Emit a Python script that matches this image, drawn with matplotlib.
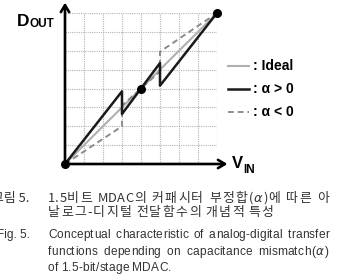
import re
import matplotlib
matplotlib.use("Agg")
import matplotlib.pyplot as plt
from matplotlib.lines import Line2D

W, H = 338, 278
DPI = 100

# ---- data ----
ideal_x = [0, 8]
ideal_y = [0, 8]
pos_x = [0, 3, 3, 5, 5, 8]
pos_y = [0, 3.85, 2.65, 5.35, 4.15, 8]
neg_x = [0, 3, 3, 5, 5, 8]
neg_y = [0, 2.0, 3.1, 4.9, 5.95, 8]
dot_x = [0, 4, 8]
dot_y = [0, 4, 8]
legend_labels = [": Ideal", ": \u03b1 > 0", ": \u03b1 < 0"]
caption_kr = [
    "1.5비트 MDAC의 커패시터 부정합($\\alpha$)에 따른 아",
    "날로그-디지털 전달함수의 개념적 특성",
]
caption_en = [
    "Conceptual characteristic of analog-digital transfer",
    "functions depending on capacitance mismatch($\\alpha$)",
    "of 1.5-bit/stage MDAC.",
]
caption_heads = ["그림 5.", "Fig. 5."]

fig = plt.figure(figsize=(W / DPI, H / DPI), dpi=DPI)
fig.patch.set_facecolor("white")

def fx(px):
    return px / W

def fy(py):
    return 1 - py / H

# axes: data 0..8 -> pixels x 65..217, y 164..13
ax = fig.add_axes([fx(65), fy(164), (217 - 65) / W, (164 - 13) / H])
ax.set_xlim(0, 8)
ax.set_ylim(0, 8)
ax.axis("off")

# grid
for v in range(1, 9):
    ax.plot([v, v], [0, 8], color="#b4b4b4", lw=0.8, ls=(0, (1, 1)), zorder=1)
    ax.plot([0, 8], [v, v], color="#b4b4b4", lw=0.8, ls=(0, (1, 1)), zorder=1)

ax.plot(ideal_x, ideal_y, color="#b0b0b0", lw=1.5, zorder=2)
ax.plot(neg_x, neg_y, color="#8c8c8c", lw=1.4, ls=(0, (3, 2)), zorder=3)
ax.plot(pos_x, pos_y, color="#1a1a1a", lw=1.8, zorder=4)
ax.scatter(dot_x, dot_y, s=30, color="black", zorder=6, clip_on=False)

# axes arrows
arrow_kw = dict(arrowstyle="->,head_length=0.5,head_width=0.3", lw=1.9, color="black",
                shrinkA=0, shrinkB=0)
ax.annotate("", xy=(8.55, 0), xytext=(0, 0), arrowprops=arrow_kw, annotation_clip=False, zorder=5)
ax.annotate("", xy=(0, 8.55), xytext=(0, 0), arrowprops=arrow_kw, annotation_clip=False, zorder=5)

# axis labels
lab = dict(family="Liberation Sans", fontweight="bold", color="black")
fig.text(fx(17), fy(26), "D", fontsize=12.5, ha="left", va="baseline", **lab)
fig.text(fx(30), fy(27), "OUT", fontsize=8.5, ha="left", va="baseline", **lab)
fig.text(fx(232), fy(168), "V", fontsize=12, ha="left", va="baseline", **lab)
fig.text(fx(243), fy(173), "IN", fontsize=8.5, ha="left", va="baseline", **lab)

# legend
leg_styles = [
    dict(color="#b0b0b0", lw=1.5, ls="-"),
    dict(color="#1a1a1a", lw=1.8, ls="-"),
    dict(color="#8c8c8c", lw=1.4, ls=(0, (3, 2))),
]
leg_y = [66, 89, 112]
for lbl, st, yy in zip(legend_labels, leg_styles, leg_y):
    fig.add_artist(Line2D([fx(228), fx(249)], [fy(yy), fy(yy)], transform=fig.transFigure, **st))
    fig.text(fx(253), fy(yy), lbl, fontsize=10, ha="left", va="center", **lab)

# caption
kr_kw = dict(fontsize=9.3, family=["Noto Sans CJK KR", "DejaVu Sans"], color="#333333", va="baseline")
en_kw = dict(fontsize=8.6, family=["Liberation Sans", "DejaVu Sans"], color="#333333", va="baseline")
renderer = fig.canvas.get_renderer()
TOK = re.compile(r"\$[^$]*\$|.")


def is_hangul(tok):
    return len(tok) == 1 and "\uac00" <= tok <= "\ud7a3"


def make_word(word, y, kw, track, base_track):
    items = []
    for tok in TOK.findall(word):
        t = fig.text(0, fy(y), tok, ha="left", **kw)
        w = t.get_window_extent(renderer).width
        items.append((t, w, track if is_hangul(tok) else base_track))
    total = sum(w + tr for _, w, tr in items) - items[-1][2]
    return items, total


def place_word(items, x):
    for t, w, tr in items:
        t.set_x(fx(x))
        x += w + tr


def tracked_line(line, x0, y, kw, track, base_track, x1=None, space=3.0):
    words = line.split(" ")
    built = [make_word(w, y, kw, track, base_track) for w in words]
    if x1 is not None and len(words) > 1:
        gap = (x1 - x0 - sum(b[1] for b in built)) / (len(words) - 1)
    else:
        gap = space
    x = x0
    for items, total in built:
        place_word(items, x)
        x += total + gap


kr_base = [202, 216]
en_base = [238, 255, 271]
KR_TRACK = 1.4
tracked_line(caption_kr[0], 48, kr_base[0], kr_kw, KR_TRACK, 0.2, x1=329)
tracked_line(caption_kr[1], 48, kr_base[1], kr_kw, KR_TRACK, 0.6, space=4.5)
tracked_line(caption_en[0], 48, en_base[0], en_kw, 0.2, 0.2, x1=329)
tracked_line(caption_en[1], 48, en_base[1], en_kw, 0.2, 0.2, x1=329)
tracked_line(caption_en[2], 48, en_base[2], en_kw, 0.2, 0.2, space=3.2)

fig.text(fx(30), fy(kr_base[0]), caption_heads[0], ha="right", **kr_kw)
fig.text(fx(30), fy(en_base[0]), caption_heads[1], ha="right", **en_kw)

fig.savefig("out.png", dpi=DPI, facecolor="white")
